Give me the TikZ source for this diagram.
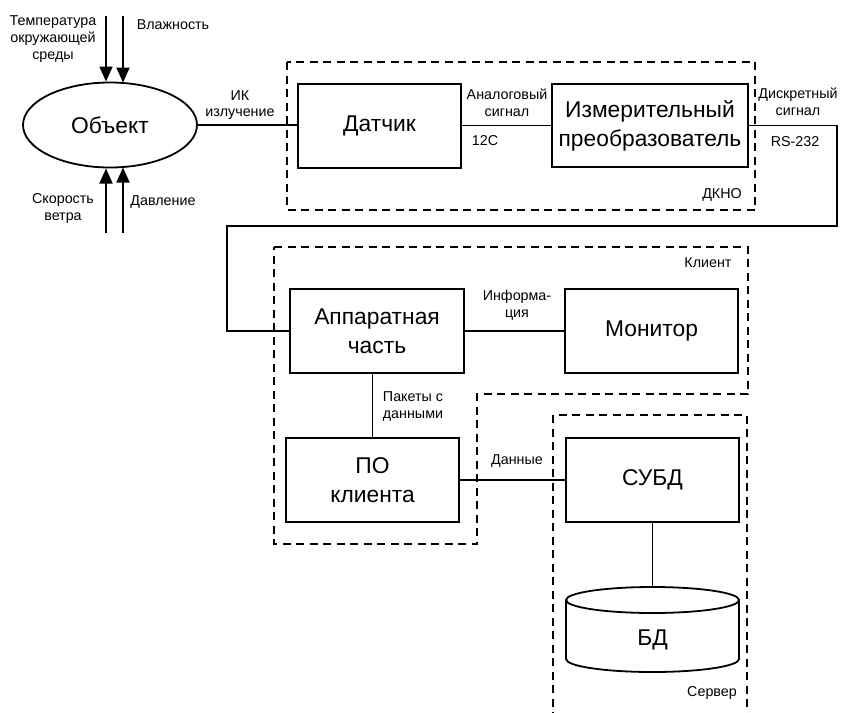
\documentclass[tikz,border=0pt]{standalone}
\usepackage{fontspec}
\setmainfont{Liberation Sans}
\usetikzlibrary{arrows.meta,shapes.geometric}
\newcommand\BigTxt{\fontsize{22.8}{29}\selectfont}
\newcommand\SmallTxt{\fontsize{14.3}{16.8}\selectfont}
\begin{document}
\begin{tikzpicture}[x=1pt,y=-1pt,
  box/.style={draw,line width=1.8pt,inner sep=0pt,align=center,font=\BigTxt},
  lbl/.style={align=center,font=\SmallTxt,inner sep=0pt},
  conn/.style={line width=1.8pt},
  grp/.style={line width=1.8pt,dash pattern=on 8pt off 5.5pt},
  inarr/.style={line width=1.8pt,-{Triangle[length=15pt,width=13pt]}}]
\useasboundingbox (0,0) rectangle (842,712);

% groups
\draw[grp] (287,62) rectangle (755,210);
\draw[grp] (274,247) -- (748,247) -- (748,394) -- (477,394) -- (477,544) -- (274,544) -- cycle;
\draw[grp] (553,720) -- (553,415) -- (747,415) -- (747,720);

% object
\node[draw,ellipse,line width=1.8pt,minimum width=174pt,minimum height=85pt,inner sep=0pt,font=\BigTxt] (obj) at (110,125) {Объект};

% boxes
\node[box,minimum width=163pt,minimum height=84pt] (dat) at (379.5,126) {Датчик};
\node[box,minimum width=196pt,minimum height=83pt] (izm) at (650,125.5) {Измерительный\\преобразователь};
\node[box,minimum width=174pt,minimum height=84pt] (app) at (377,331) {Аппаратная\\часть};
\node[box,minimum width=173pt,minimum height=84pt] (mon) at (651.5,331) {Монитор};
\node[box,minimum width=173pt,minimum height=84pt] (po) at (372.5,480) {ПО\\клиента};
\node[box,minimum width=173pt,minimum height=84pt] (subd) at (652.5,480) {СУБД};

% database cylinder
\node[inner sep=0pt,minimum width=173pt,minimum height=85pt] (bd) at (652.5,629.5) {};
\node[inner sep=0pt,font=\BigTxt] (bdt) at (652.5,640) {БД};
\draw[conn] (652.5,600) ellipse [x radius=86.5pt, y radius=13pt];
\draw[conn] (566,600) -- (566,659) arc[start angle=180,end angle=360,x radius=86.5pt,y radius=13pt] -- (739,600);

% input arrows
\coordinate (a1) at (106,16);
\coordinate (a2) at (123,16);
\coordinate (a3) at (106,233);
\coordinate (a4) at (123,233);
\draw[inarr] (a1) -- (106,81.5);
\draw[inarr] (a2) -- (123,82.5);
\draw[inarr] (a3) -- (106,168.5);
\draw[inarr] (a4) -- (123,167.5);

% connectors
\draw[conn] (obj.east) -- (obj.east -| dat.west);
\draw[conn] (dat.east |- izm.west) -- (izm.west);
\coordinate (c1) at (837,226);
\coordinate (c2) at (227,226);
\draw[conn] (izm.east) -| (c1) -- (c2) |- (app.west);
\draw[conn] (app.east) -- (mon.west);
\draw[conn] (po.north) -- (po.north |- app.south);
\draw[conn] (po.east) -- (subd.west);
\draw[conn] (subd.south) -- (652.5,587);

% labels
\node[lbl] (l1) at (53,39) {Температура\\окружающей\\среды};
\node[lbl] (l2) at (173,25) {Влажность};
\node[lbl] (l3) at (240,105) {ИК\\излучение};
\node[lbl] (l4) at (63,208.5) {Скорость\\ветра};
\node[lbl] (l5) at (163,202) {Давление};
\node[lbl] (l6) at (507,103) {Аналоговый\\сигнал};
\node[lbl] (l7) at (485,141) {12C};
\node[lbl] (l8) at (798,102) {Дискретный\\сигнал};
\node[lbl] (l9) at (795,142) {RS-232};
\node[lbl] (l10) at (722,195) {ДКНО};
\node[lbl] (l11) at (708,263) {Клиент};
\node[lbl] (l12) at (517,305) {Информа-\\ция};
\node[lbl] (l13) at (413,406.5) {Пакеты с\\данными};
\node[lbl] (l14) at (517,461) {Данные};
\node[lbl] (l15) at (712,693) {Сервер};
\end{tikzpicture}
\end{document}
